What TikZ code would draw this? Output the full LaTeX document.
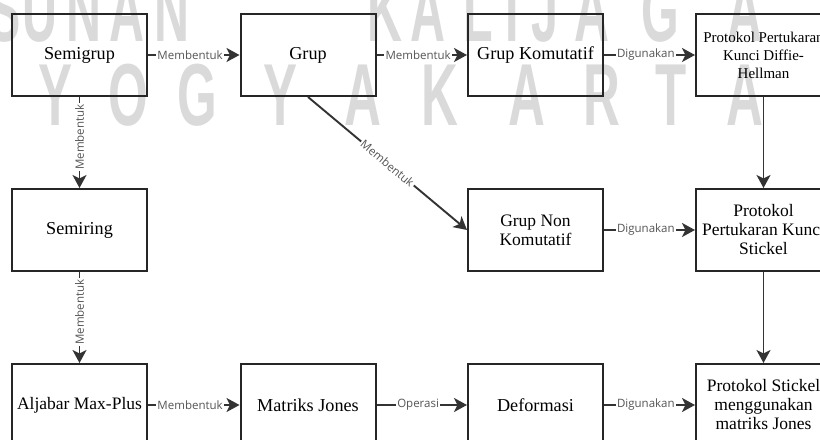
\documentclass[tikz,border=0pt]{standalone}
\usepackage{fontspec}
\usepackage{graphicx}
\setmainfont{Liberation Serif}
\newfontfamily\lblfont{Open Sans}
\newfontfamily\wmfont{Liberation Sans}
\usetikzlibrary{arrows.meta}
\definecolor{wm}{HTML}{DADADA}
\definecolor{ln}{HTML}{333333}
\definecolor{lbl}{HTML}{555555}
\begin{document}
\begin{tikzpicture}[x=1bp,y=-1bp,
  box/.style={draw=black!85, line width=2bp, minimum width=135bp, minimum height=82bp,
    inner sep=0pt, align=center, font=\fontsize{18.2bp}{19bp}\selectfont},
  boxmd/.style={box, font=\fontsize{17.5bp}{19bp}\selectfont},
  boxsm/.style={box, font=\fontsize{15bp}{18bp}\selectfont},
  conn/.style={draw=ln, line width=1.9bp, -{Stealth[length=13bp,width=14bp,inset=3.5bp]}},
  elab/.style={fill=white, inner sep=1.5bp, text=lbl, font=\lblfont\fontsize{11.5bp}{13bp}\selectfont},
  wml/.style={text=wm, font=\wmfont\bfseries\fontsize{88bp}{88bp}\selectfont, inner sep=0pt, anchor=base}
]
\useasboundingbox (0,0) rectangle (820,440);
\fill[white] (0,0) rectangle (820,440);
% watermark
\foreach \c/\x [count=\i] in {S/5,U/40,N/84,A/127,N/172,K/385,A/428,L/478,I/512,J/545,A/592,G/660,A/745}
  \node[wml] (wmt\i) at (\x,42) {\scalebox{0.55}[1]{\c}};
\foreach \c/\x [count=\i] in {Y/56,O/128,G/197,Y/281,A/363,K/440,A/527,R/602,T/671,A/745}
  \node[wml] (wmb\i) at (\x,126) {\scalebox{0.58}[1]{\c}};
% boxes
\node[box] (semigrup) at (79.5,55) {Semigrup};
\node[box] (grup) at (308,55) {Grup};
\node[box] (gk) at (535.5,55) {Grup Komutatif};
\node[boxsm] (dh) at (763.5,55) {Protokol Pertukaran\\Kunci Diffie-\\Hellman};
\node[box] (semiring) at (79.5,230) {Semiring};
\node[boxmd] (gnk) at (535.5,230) {Grup Non\\Komutatif};
\node[boxmd] (stk) at (763.5,230) {Protokol\\Pertukaran Kunci\\Stickel};
\node[boxmd] (amp) at (79.5,405) {Aljabar Max-Plus};
\node[box] (mj) at (308,405) {Matriks Jones};
\node[box] (def) at (535.5,405) {Deformasi};
\node[boxmd] (psj) at (763.5,405) {Protokol Stickel\\menggunakan\\matriks Jones};
% connectors
\draw[conn] (semigrup) -- node[elab,pos=0.46]{Membentuk} (grup);
\draw[conn] (grup) -- node[elab,pos=0.46]{Membentuk} (gk);
\draw[conn] (gk) -- node[elab,pos=0.46]{Digunakan} (dh);
\draw[conn] (semigrup) -- node[elab,rotate=90,pos=0.44]{Membentuk} (semiring);
\draw[conn] (grup.south) -- node[elab,sloped]{Membentuk} (gnk.west);
\draw[conn] (gnk) -- node[elab,pos=0.46]{Digunakan} (stk);
\draw[conn] (dh) -- (stk);
\draw[conn] (semiring) -- node[elab,rotate=90,pos=0.44]{Membentuk} (amp);
\draw[conn] (stk) -- (psj);
\draw[conn] (amp) -- node[elab,pos=0.46]{Membentuk} (mj);
\draw[conn] (mj) -- node[elab,pos=0.46]{Operasi} (def);
\draw[conn] (def) -- node[elab,pos=0.46]{Digunakan} (psj);
\end{tikzpicture}
\end{document}
